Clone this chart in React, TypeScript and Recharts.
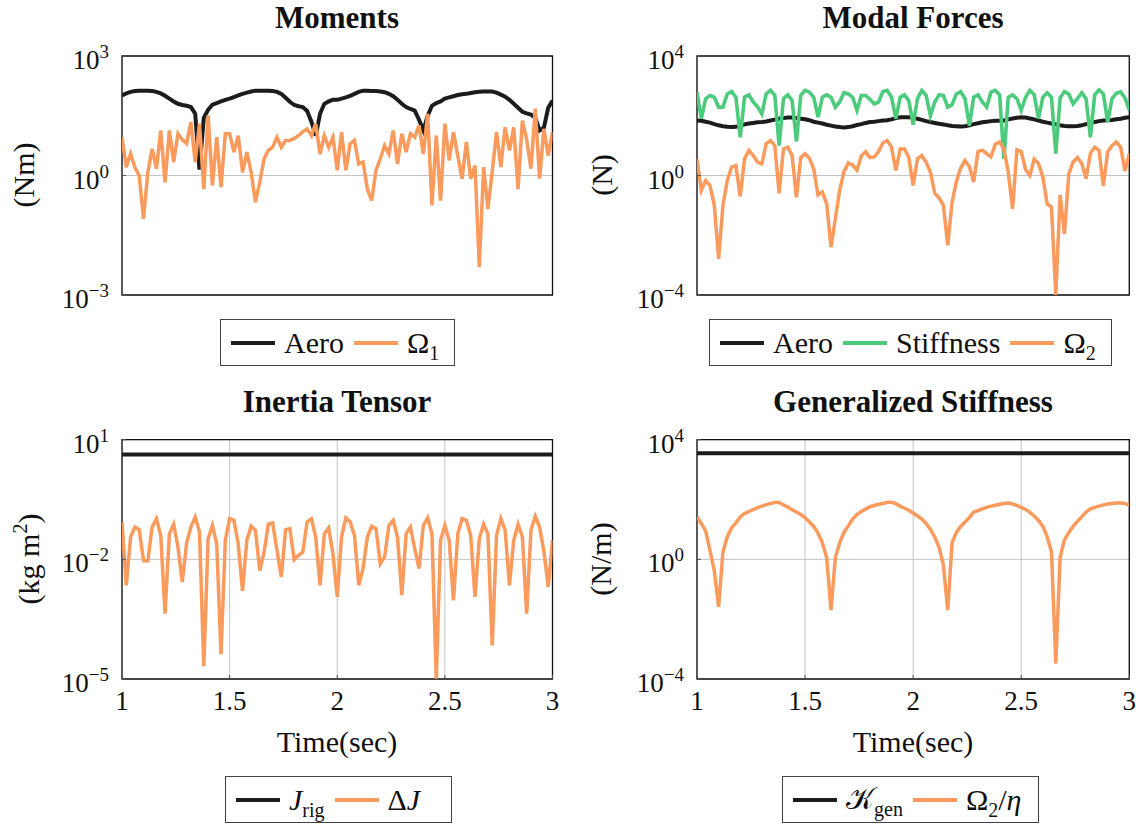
import React from 'react';
import { LineChart, Line, XAxis, YAxis, CartesianGrid, ReferenceArea } from 'recharts';

// sample times (sec)
const time = [
  1, 1.02, 1.04, 1.06, 1.08, 1.1, 1.12, 1.14, 1.16, 1.18,
  1.2, 1.22, 1.24, 1.26, 1.28, 1.3, 1.32, 1.34, 1.36, 1.38,
  1.4, 1.42, 1.44, 1.46, 1.48, 1.5, 1.52, 1.54, 1.56, 1.58,
  1.6, 1.62, 1.64, 1.66, 1.68, 1.7, 1.72, 1.74, 1.76, 1.78,
  1.8, 1.82, 1.84, 1.86, 1.88, 1.9, 1.92, 1.94, 1.96, 1.98,
  2, 2.02, 2.04, 2.06, 2.08, 2.1, 2.12, 2.14, 2.16, 2.18,
  2.2, 2.22, 2.24, 2.26, 2.28, 2.3, 2.32, 2.34, 2.36, 2.38,
  2.4, 2.42, 2.44, 2.46, 2.48, 2.5, 2.52, 2.54, 2.56, 2.58,
  2.6, 2.62, 2.64, 2.66, 2.68, 2.7, 2.72, 2.74, 2.76, 2.78,
  2.8, 2.82, 2.84, 2.86, 2.88, 2.9, 2.92, 2.94, 2.96, 2.98,
  3,
];
const timeTicks = [1, 1.5, 2, 2.5, 3];

// all series below are log10 of the plotted magnitude

// Moments (Nm)
const momentAero = [
  2.01, 2.06, 2.10, 2.12, 2.13, 2.13, 2.13, 2.12, 2.10, 2.06,
  2.00, 1.93, 1.86, 1.80, 1.77, 1.75, 1.72, 1.55, 0.15, 1.45,
  1.65, 1.78, 1.82, 1.86, 1.90, 1.93, 1.97, 2.01, 2.05, 2.08,
  2.11, 2.13, 2.13, 2.13, 2.13, 2.12, 2.10, 2.05, 1.95, 1.85,
  1.77, 1.74, 1.72, 1.62, 1.35, 1.00, 1.55, 1.80, 1.86, 1.90,
  1.90, 1.93, 1.96, 2.00, 2.05, 2.10, 2.13, 2.13, 2.12, 2.12,
  2.11, 2.09, 2.05, 1.99, 1.90, 1.80, 1.72, 1.67, 1.63, 1.40,
  1.13, 1.50, 1.75, 1.82, 1.86, 1.93, 1.96, 1.99, 2.02, 2.04,
  2.05, 2.07, 2.09, 2.10, 2.11, 2.11, 2.11, 2.08, 2.03, 1.98,
  1.90, 1.80, 1.70, 1.60, 1.56, 1.53, 1.45, 1.13, 1.20, 1.70,
  1.88,
];
const momentOmega1 = [
  0.96, 0.21, 0.55, 0.20, 0.00, -1.09, 0.08, 0.67, 0.17, 1.13,
  -0.17, 1.13, 0.34, 1.05, 0.90, 0.80, 1.34, 0.34, 1.30, -0.34,
  1.51, -0.25, 0.96, -0.29, 1.05, 1.05, 0.59, 1.00, 0.08, 0.59,
  0.08, -0.67, -0.17, 0.42, 0.63, 0.71, 0.96, 0.71, 0.88, 0.88,
  0.93, 1.00, 1.10, 1.17, 1.00, 1.30, 0.54, 1.00, 0.71, 0.96,
  0.13, 1.09, 0.13, 0.80, 0.88, 0.29, 0.34, -0.34, -0.63, 0.13,
  0.42, 0.75, 0.54, 1.13, 0.29, 1.05, 0.59, 1.05, 0.96, 1.26,
  0.54, 1.55, -0.75, 1.00, -0.63, 1.30, 0.38, 1.09, 0.50, -0.08,
  0.84, -0.08, 0.25, -2.30, 0.21, -0.84, 0.10, 1.09, 0.21, 1.21,
  0.63, 1.21, -0.34, 1.38, 0.90, 0.17, 1.68, -0.08, 1.17, 0.50,
  1.09,
];

// Modal forces (N)
const modalAero = [
  1.84, 1.83, 1.80, 1.77, 1.72, 1.68, 1.65, 1.63, 1.62, 1.63,
  1.67, 1.71, 1.74, 1.76, 1.78, 1.79, 1.81, 1.84, 1.87, 1.90,
  1.92, 1.94, 1.94, 1.92, 1.90, 1.88, 1.85, 1.80, 1.77, 1.74,
  1.70, 1.67, 1.64, 1.62, 1.61, 1.62, 1.65, 1.69, 1.72, 1.76,
  1.79, 1.80, 1.82, 1.84, 1.85, 1.88, 1.92, 1.95, 1.95, 1.95,
  1.93, 1.90, 1.86, 1.82, 1.79, 1.76, 1.73, 1.71, 1.68, 1.66,
  1.65, 1.64, 1.65, 1.68, 1.72, 1.75, 1.78, 1.80, 1.82, 1.83,
  1.83, 1.84, 1.88, 1.91, 1.93, 1.95, 1.94, 1.91, 1.88, 1.84,
  1.80, 1.77, 1.74, 1.71, 1.68, 1.66, 1.65, 1.65, 1.66, 1.68,
  1.72, 1.76, 1.79, 1.82, 1.84, 1.85, 1.86, 1.88, 1.90, 1.93,
  1.95,
];
const modalStiffness = [
  2.79, 1.90, 2.57, 2.68, 2.62, 2.29, 2.29, 2.73, 2.81, 2.62,
  1.28, 2.62, 2.70, 2.46, 2.30, 2.06, 2.73, 2.85, 2.68, 1.00,
  2.57, 2.70, 2.51, 1.14, 2.68, 2.85, 2.79, 2.62, 1.95, 2.62,
  2.70, 2.62, 2.29, 2.46, 2.77, 2.73, 2.62, 2.18, 2.68, 2.68,
  2.55, 2.40, 2.46, 2.81, 2.85, 2.62, 1.90, 2.62, 2.70, 2.50,
  1.70, 2.57, 2.85, 2.68, 2.00, 2.46, 2.70, 2.68, 2.29, 2.37,
  2.73, 2.81, 2.57, 1.67, 2.62, 2.70, 2.46, 2.29, 2.79, 2.85,
  2.70, 0.56, 2.62, 2.70, 2.57, 2.18, 2.62, 2.85, 2.70, 1.90,
  2.62, 2.77, 2.62, 0.73, 2.60, 2.81, 2.73, 2.40, 2.57, 2.77,
  2.57, 1.28, 2.70, 2.87, 2.73, 1.79, 2.57, 2.75, 2.80, 2.60,
  2.20,
];
const modalOmega2 = [
  0.56, -0.50, -0.17, -0.33, -1.00, -2.79, -1.00, -0.17, 0.28, 0.33,
  -0.70, 0.55, 0.84, 0.67, 0.45, 0.39, 1.06, 1.17, 1.00, -0.60,
  0.89, 0.95, 0.67, -0.73, 0.60, 0.73, 0.58, 0.22, -0.65, -0.55,
  -0.95, -2.40, -1.45, -0.50, 0.13, 0.42, 0.35, 0.18, 0.65, 0.80,
  0.60, 0.62, 0.80, 1.09, 1.17, 0.95, 0.17, 0.89, 0.89, 0.60,
  -0.33, 0.56, 0.67, 0.45, 0.11, -0.60, -0.75, -1.00, -2.34, -0.90,
  -0.20, 0.25, 0.50, 0.30, -0.22, 0.80, 0.85, 0.73, 0.62, 1.05,
  1.12, 0.89, 0.11, -1.12, 0.86, 0.80, 0.20, 0.00, 0.55, 0.40,
  -0.05, -0.95, -1.05, -4.00, -0.65, -1.95, 0.05, 0.45, 0.60, 0.40,
  -0.11, 0.75, 0.95, 0.84, -0.35, 0.80, 1.00, 1.12, 0.95, 0.15,
  0.73,
];

// Inertia tensor (kg m^2)
const jRig = 0.63;
const deltaJ = [
  -1.06, -2.65, -1.44, -1.19, -1.26, -2.03, -2.04, -1.19, -0.98, -1.40,
  -3.36, -1.36, -1.12, -1.69, -2.57, -1.60, -1.19, -0.94, -1.31, -4.68,
  -1.48, -1.15, -1.61, -4.38, -1.52, -0.98, -1.02, -1.61, -2.79, -1.52,
  -1.17, -1.27, -2.28, -1.82, -1.12, -1.09, -1.77, -2.44, -1.26, -1.23,
  -2.01, -1.90, -1.82, -1.06, -0.98, -1.44, -2.65, -1.36, -1.21, -1.86,
  -2.94, -1.44, -0.96, -1.06, -1.40, -2.65, -2.23, -1.44, -1.17, -1.23,
  -2.11, -1.94, -1.15, -1.02, -1.44, -2.90, -1.36, -1.19, -1.73, -2.23,
  -1.15, -0.96, -1.36, -4.99, -1.52, -1.15, -1.52, -3.03, -1.36, -0.98,
  -1.02, -1.40, -2.94, -1.48, -1.12, -1.36, -4.16, -1.40, -0.98, -1.27,
  -2.65, -1.52, -1.12, -1.44, -3.36, -1.27, -0.92, -1.19, -1.80, -2.69,
  -1.52,
];

// Generalized stiffness (N/m)
const kGen = 3.55;
const omega2OverEta = [
  1.41, 1.20, 0.95, 0.30, -0.37, -1.59, 0.25, 0.75, 1.05, 1.22,
  1.42, 1.53, 1.60, 1.66, 1.73, 1.78, 1.83, 1.87, 1.90, 1.90,
  1.82, 1.75, 1.66, 1.58, 1.50, 1.40, 1.25, 1.10, 0.88, 0.55,
  0.05, -1.70, 0.05, 0.55, 0.90, 1.12, 1.35, 1.50, 1.60, 1.68,
  1.76, 1.80, 1.84, 1.87, 1.90, 1.91, 1.86, 1.78, 1.71, 1.64,
  1.55, 1.45, 1.35, 1.20, 1.00, 0.75, 0.40, -0.20, -1.70, 0.55,
  0.90, 1.10, 1.25, 1.40, 1.58, 1.63, 1.69, 1.74, 1.78, 1.81,
  1.84, 1.87, 1.88, 1.85, 1.80, 1.74, 1.67, 1.57, 1.45, 1.30,
  1.10, 0.75, 0.25, -3.48, 0.08, 0.65, 0.90, 1.10, 1.27, 1.42,
  1.58, 1.69, 1.74, 1.78, 1.82, 1.85, 1.87, 1.88, 1.88, 1.87,
  1.80,
];

const SERIF = "'Liberation Serif', 'DejaVu Serif', serif";
const BLACK = '#1c1c1c';
const ORANGE = '#fa9a5c';
const GREEN = '#4ccb7c';

const pow10 = (e: number) => Math.pow(10, e);

const momentRows = time.map((t, i) => ({ t, aero: pow10(momentAero[i]), omega: pow10(momentOmega1[i]) }));
const modalRows = time.map((t, i) => ({
  t,
  aero: pow10(modalAero[i]),
  stiffness: pow10(modalStiffness[i]),
  omega: pow10(modalOmega2[i]),
}));
const inertiaRows = time.map((t, i) => ({ t, rig: pow10(jRig), delta: pow10(deltaJ[i]) }));
const stiffRows = time.map((t, i) => ({ t, gen: pow10(kGen), omega: pow10(omega2OverEta[i]) }));

const LogTick = (props: any) => {
  const { x, y, payload } = props;
  const exp = Math.round(Math.log10(payload.value));
  const sup = exp < 0 ? `\u2212${-exp}` : `${exp}`;
  return (
    <text x={x} y={y} textAnchor="end" fontFamily={SERIF} fill="#111">
      <tspan fontSize={27} dy={13}>10</tspan>
      <tspan fontSize={19} dy={-11}>{sup}</tspan>
    </text>
  );
};

const TimeTick = (props: any) => {
  const { x, y, payload } = props;
  return (
    <text x={x} y={y} dy={31} textAnchor="middle" fontFamily={SERIF} fontSize={27} fill="#111">
      {payload.value}
    </text>
  );
};

type Series = { key: string; color: string; width: number };

type PanelProps = {
  left: number;
  top: number;
  height: number;
  marginTop: number;
  marginRight: number;
  marginBottom: number;
  rows: any[];
  yDomain: [number, number];
  yTicks: number[];
  series: Series[];
  showTime: boolean;
};

const Panel = ({ left, top, height, marginTop, marginRight, marginBottom, rows, yDomain, yTicks, series, showTime }: PanelProps) => (
  <div style={{ position: 'absolute', left, top }}>
    <LineChart
      width={575}
      height={height}
      data={rows}
      margin={{ top: marginTop, right: marginRight, bottom: marginBottom, left: 0 }}
    >
      <CartesianGrid stroke="#c4c4c4" strokeWidth={1} />
      <XAxis
        dataKey="t"
        type="number"
        domain={[1, 3]}
        ticks={timeTicks}
        interval={0}
        allowDataOverflow
        height={40}
        axisLine={false}
        tickSize={-4}
        tickMargin={4}
        tickLine={{ stroke: '#555' }}
        tick={showTime ? <TimeTick /> : false}
      />
      <YAxis
        type="number"
        scale="log"
        domain={yDomain}
        ticks={yTicks}
        interval={0}
        allowDataOverflow
        width={122}
        axisLine={false}
        tickSize={-4}
        tickMargin={17}
        tickLine={{ stroke: '#555' }}
        tick={<LogTick />}
      />
      {series.map((s) => (
        <Line
          key={s.key}
          type="linear"
          dataKey={s.key}
          stroke={s.color}
          strokeWidth={s.width}
          dot={false}
          activeDot={false}
          isAnimationActive={false}
        />
      ))}
      <ReferenceArea
        x1={1}
        x2={3}
        y1={yDomain[0]}
        y2={yDomain[1]}
        fill="none"
        fillOpacity={0}
        stroke="#111"
        strokeWidth={1.3}
        ifOverflow="visible"
      />
    </LineChart>
  </div>
);

type LegendItem = { color: string; label: React.ReactNode };

const LegendBox = ({ left, top, width, items }: { left: number; top: number; width: number; items: LegendItem[] }) => (
  <div
    style={{
      position: 'absolute',
      left,
      top,
      width,
      height: 47,
      boxSizing: 'border-box',
      border: '1.5px solid #444',
      background: '#fff',
      display: 'flex',
      alignItems: 'center',
      paddingLeft: 10,
      fontFamily: SERIF,
      fontSize: 30,
      color: '#111',
      whiteSpace: 'nowrap',
    }}
  >
    {items.map((it, i) => (
      <React.Fragment key={i}>
        <span style={{ display: 'inline-block', width: 44, height: 4, background: it.color, marginRight: 9, marginLeft: i === 0 ? 0 : 10 }} />
        <span>{it.label}</span>
      </React.Fragment>
    ))}
  </div>
);

const sub = (s: string) => (
  <span style={{ fontSize: 20, position: 'relative', top: 7, lineHeight: 0 }}>{s}</span>
);

export default function App() {
  return (
    <div style={{ position: 'absolute', left: 0, top: 0, width: 1145, height: 824, background: '#fff', overflow: 'hidden' }}>
      <Panel
        left={0}
        top={0}
        height={384}
        marginTop={56}
        marginRight={22.5}
        marginBottom={49}
        rows={momentRows}
        yDomain={[1e-3, 1e3]}
        yTicks={[1e-3, 1, 1e3]}
        series={[
          { key: 'aero', color: BLACK, width: 4 },
          { key: 'omega', color: ORANGE, width: 3.5 },
        ]}
        showTime={false}
      />
      <Panel
        left={575}
        top={0}
        height={384}
        marginTop={56}
        marginRight={20.7}
        marginBottom={49}
        rows={modalRows}
        yDomain={[1e-4, 1e4]}
        yTicks={[1e-4, 1, 1e4]}
        series={[
          { key: 'aero', color: BLACK, width: 4 },
          { key: 'stiffness', color: GREEN, width: 3.6 },
          { key: 'omega', color: ORANGE, width: 3.5 },
        ]}
        showTime={false}
      />
      <Panel
        left={0}
        top={384}
        height={440}
        marginTop={55.7}
        marginRight={22.5}
        marginBottom={105}
        rows={inertiaRows}
        yDomain={[1e-5, 1e1]}
        yTicks={[1e-5, 1e-2, 1e1]}
        series={[
          { key: 'rig', color: BLACK, width: 4 },
          { key: 'delta', color: ORANGE, width: 3.5 },
        ]}
        showTime={true}
      />
      <Panel
        left={575}
        top={384}
        height={440}
        marginTop={55.7}
        marginRight={20.7}
        marginBottom={105}
        rows={stiffRows}
        yDomain={[1e-4, 1e4]}
        yTicks={[1e-4, 1, 1e4]}
        series={[
          { key: 'gen', color: BLACK, width: 4 },
          { key: 'omega', color: ORANGE, width: 3.5 },
        ]}
        showTime={true}
      />

      <svg width={1145} height={824} style={{ position: 'absolute', left: 0, top: 0, pointerEvents: 'none' }}>
        <g fontFamily={SERIF} fill="#111" textAnchor="middle">
          <text x={337} y={28} fontSize={31} fontWeight="bold">Moments</text>
          <text x={913} y={28} fontSize={31} fontWeight="bold">Modal Forces</text>
          <text x={337} y={412} fontSize={31} fontWeight="bold">Inertia Tensor</text>
          <text x={913} y={412} fontSize={31} fontWeight="bold">Generalized Stiffness</text>

          <text x={337} y={752} fontSize={30}>Time(sec)</text>
          <text x={913} y={752} fontSize={30}>Time(sec)</text>

          <text x={34} y={175} fontSize={30} transform="rotate(-90 34 175)">(Nm)</text>
          <text x={612} y={175} fontSize={30} transform="rotate(-90 612 175)">(N)</text>
          <text x={39} y={559} fontSize={30} transform="rotate(-90 39 559)">
            (kg m<tspan fontSize={20} dy={-12}>2</tspan><tspan dy={12}>)</tspan>
          </text>
          <text x={611} y={559} fontSize={30} transform="rotate(-90 611 559)">(N/m)</text>
        </g>
      </svg>

      <LegendBox
        left={220}
        top={319}
        width={235}
        items={[
          { color: BLACK, label: 'Aero' },
          { color: ORANGE, label: <>Ω{sub('1')}</> },
        ]}
      />
      <LegendBox
        left={709}
        top={319}
        width={403}
        items={[
          { color: BLACK, label: 'Aero' },
          { color: GREEN, label: 'Stiffness' },
          { color: ORANGE, label: <>Ω{sub('2')}</> },
        ]}
      />
      <LegendBox
        left={225}
        top={776}
        width={227}
        items={[
          { color: BLACK, label: <><i>J</i>{sub('rig')}</> },
          { color: ORANGE, label: <>Δ<i>J</i></> },
        ]}
      />
      <LegendBox
        left={782}
        top={776}
        width={257}
        items={[
          { color: BLACK, label: <>𝒦{sub('gen')}</> },
          { color: ORANGE, label: <>Ω{sub('2')}/<i>η</i></> },
        ]}
      />
    </div>
  );
}
